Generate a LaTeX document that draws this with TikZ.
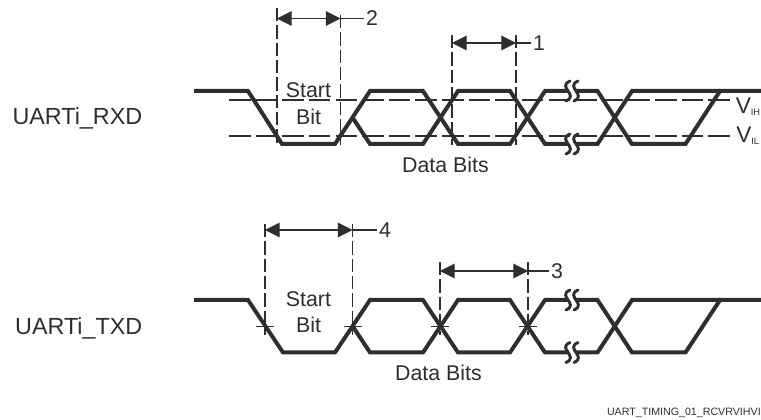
\documentclass[tikz,border=0pt]{standalone}
\usepackage{fontspec}
\setmainfont{Liberation Sans}
\usepackage{tikz}
\usetikzlibrary{arrows.meta,positioning}
\definecolor{ink}{HTML}{2E2E2E}
\tikzset{
 sigline/.style={line width=3pt,ink,line join=miter},
 refline/.style={line width=0.9pt,ink,dash pattern=on 16.2pt off 3.77pt},
 guideline/.style={line width=0.9pt,ink,dash pattern=on 10pt off 3pt},
 tickline/.style={line width=0.6pt,ink},
 dimline/.style={line width=0.8pt,ink,{Triangle[length=11pt,width=11pt]}-{Triangle[length=11pt,width=11pt]}},
 leadline/.style={line width=0.8pt,ink},
 siglabel/.style={font=\fontsize{17.5}{20}\selectfont,ink,anchor=base east,inner sep=0pt},
 txtlabel/.style={font=\fontsize{16}{19}\selectfont,ink},
 numlabel/.style={font=\fontsize{16}{19}\selectfont,ink,inner sep=0pt},
 levlabel/.style={font=\fontsize{17}{19}\selectfont,ink,anchor=base west,inner sep=0pt},
 brkline/.style={line width=2.2pt,ink,line cap=round},
 brkgap/.style={fill=white,draw=none},
}
% break mark in a rail
\newcommand{\railbreak}[2]{
 \fill[brkgap] (#1-3.5,#2-3) rectangle (#1+3.5,#2+3);
 \foreach \dx in {-4,4}
  \draw[brkline] (#1+\dx+2,#2-10) .. controls (#1+\dx-5,#2-7) and (#1+\dx-2,#2-3) .. (#1+\dx,#2)
   .. controls (#1+\dx+2,#2+3) and (#1+\dx+5,#2+7) .. (#1+\dx-2,#2+10);
}
\newcommand{\levsub}[1]{\raisebox{-1.2pt}{\fontsize{7}{7}\selectfont #1}}
\begin{document}
\begin{tikzpicture}[x=0.75pt,y=-0.75pt]
 \useasboundingbox (0,0) rectangle (761,420);
 % receive side
 \draw[refline] (229,100) -- (730,100);
 \draw[refline] (229,136) -- (730,136);
 \coordinate (rs) at (277,145);
 \coordinate (re) at (340.5,145);
 \coordinate (rd) at (452,145);
 \coordinate (rf) at (516,145);
 \draw[guideline] (277,8) -- (rs);
 \draw[guideline] (340.5,15) -- (re);
 \draw[guideline] (452,35) -- (rd);
 \draw[guideline] (516,35) -- (rf);
 \draw[sigline] (194,91) -- (248,91) -- (282,144) -- (335,144) -- (370,91) -- (423,91)
  -- (458,144) -- (510,144) -- (545,91) -- (597.5,91) -- (632,144) -- (685.5,144) -- (720,91) -- (761,91);
 \draw[sigline] (352.5,117.5) -- (370,144) -- (423,144) -- (458,91) -- (510,91) -- (545,144)
  -- (597.5,144) -- (632,91) -- (720,91);
 \railbreak{572}{91}
 \railbreak{572}{144}
 \node[numlabel] (two) at (372,18.5) {2};
 \node[numlabel] (one) at (539,43) {1};
 \coordinate (ta) at (277,18.5);
 \coordinate (tb) at (340.5,18.5);
 \coordinate (oa) at (452,43);
 \coordinate (ob) at (516,43);
 \draw[dimline] (ta) -- (tb);
 \draw[dimline] (oa) -- (ob);
 \draw[leadline] (tb) -- ([xshift=-1pt]two.west);
 \draw[leadline] (ob) -- ([xshift=-1pt]one.west);
 \node[txtlabel] (rstart) at (308.5,90) {Start};
 \node[txtlabel] (rbit) at (308.5,117) {Bit};
 \node[txtlabel] (rdata) at (445.5,165) {Data Bits};
 \node[siglabel] (rxd) at (142.5,125) {UARTi\_RXD};
 \node[levlabel] (vih) at (735.5,114) {V\levsub{IH}};
 \node[levlabel] (vil) at (736,143) {V\levsub{IL}};
 % transmit side
 \draw[guideline] (265,224) -- (265,335);
 \draw[guideline] (352.5,224) -- (352.5,335);
 \draw[guideline] (440,262) -- (440,335);
 \draw[guideline] (528,262) -- (528,335);
 \foreach \xc in {265,352.5,440,528}
  \draw[tickline] (\xc-9,326) -- (\xc+9,326);
 \draw[sigline] (194,300) -- (248,300) -- (283,352.5) -- (335,352.5) -- (370,300) -- (423,300)
  -- (458,352.5) -- (510,352.5) -- (545,300) -- (597.5,300) -- (632,352.5) -- (685.5,352.5) -- (720,300) -- (761,300);
 \draw[sigline] (352.5,326) -- (370,352.5) -- (423,352.5) -- (458,300) -- (510,300) -- (545,352.5)
  -- (597.5,352.5) -- (632,300) -- (720,300);
 \railbreak{572}{300}
 \railbreak{572}{352.5}
 \node[numlabel] (four) at (385,230) {4};
 \node[numlabel] (three) at (557,271) {3};
 \coordinate (fa) at (265,230);
 \coordinate (fb) at (352.5,230);
 \coordinate (ha) at (440,271);
 \coordinate (hb) at (528,271);
 \draw[dimline] (fa) -- (fb);
 \draw[dimline] (ha) -- (hb);
 \draw[leadline] (fb) -- ([xshift=-1pt]four.west);
 \draw[leadline] (hb) -- ([xshift=-1pt]three.west);
 \node[txtlabel] (tstart) at (308.5,299) {Start};
 \node[txtlabel] (tbit) at (308.5,325) {Bit};
 \node[txtlabel] (tdata) at (438.5,373) {Data Bits};
 \node[siglabel] (txd) at (142.5,335) {UARTi\_TXD};
 \node[font=\fontsize{8}{9}\selectfont,ink,anchor=east,inner sep=0pt] (figid) at (761,413) {UART\_TIMING\_01\_RCVRVIHVI};
\end{tikzpicture}
\end{document}
